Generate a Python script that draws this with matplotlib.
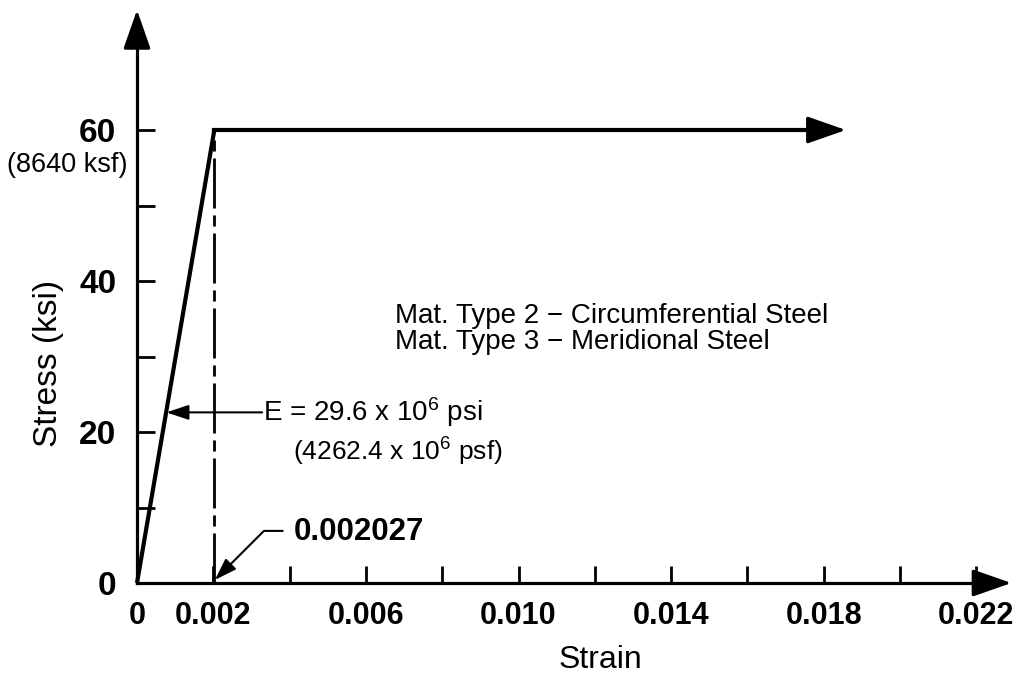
import matplotlib
matplotlib.use("Agg")
import matplotlib.pyplot as plt

plt.rcParams['font.family'] = ['Liberation Sans', 'DejaVu Sans']
plt.rcParams['mathtext.default'] = 'regular'

# stress-strain curve (strain, ksi)
strain = [0.0, 0.002027, 0.0182]
stress = [0.0, 60.0, 60.0]
yield_strain = 0.002027
yield_stress = 60

x_major = [0, 0.002, 0.006, 0.010, 0.014, 0.018, 0.022]
x_labels = ['0', '0.002', '0.006', '0.010', '0.014', '0.018', '0.022']
x_minor = [0.004, 0.008, 0.012, 0.016, 0.020]
y_major = [0, 20, 40, 60]
y_labels = ['0', '20', '40', '60']
y_minor = [10, 30, 50]

fig = plt.figure(figsize=(10.16, 6.81), dpi=100)
ax = fig.add_axes([0, 0, 1, 1])
ax.set_xlim(-0.003591, 0.02304)
ax.set_ylim(-12.98, 77.22)

for s in ['top', 'right']:
    ax.spines[s].set_visible(False)
ax.spines['left'].set_position(('data', 0))
ax.spines['bottom'].set_position(('data', 0))
ax.spines['left'].set_bounds(0, 72)
ax.spines['bottom'].set_bounds(0, 0.0224)
for s in ['left', 'bottom']:
    ax.spines[s].set_linewidth(2.3)

ax.set_xticks(x_major)
ax.set_xticklabels(x_labels, fontweight='bold')
ax.set_xticks(x_minor, minor=True)
ax.set_yticks(y_major)
ax.set_yticklabels(y_labels, fontweight='bold')
ax.set_yticks(y_minor, minor=True)
ax.tick_params(axis='x', which='both', direction='in', length=12, width=2, pad=13, labelsize=22)
ax.tick_params(axis='y', which='both', direction='in', length=13, width=2, pad=15, labelsize=24)
ax.tick_params(axis='x', which='minor', labelbottom=False)

# axis arrowheads
head = dict(arrowstyle='-|>,head_length=1.2,head_width=0.42', color='k', lw=2.3,
            mutation_scale=20, shrinkA=0, shrinkB=0)
ax.annotate('', xy=(0, 75.9), xytext=(0, 71), arrowprops=head)
ax.annotate('', xy=(0.02292, 0), xytext=(0.0223, 0), arrowprops=head)

# curve
ax.plot(strain[:2], stress[:2], color='k', lw=3, solid_capstyle='butt')
ax.plot([strain[1], strain[2]], stress[1:], color='k', lw=3)
ax.annotate('', xy=(0.01858, 60), xytext=(0.0181, 60), arrowprops=head)
ax.plot([yield_strain, yield_strain], [0, yield_stress], color='k', lw=2,
        linestyle=(0, (18, 2.5, 4, 2.5)))

ax.text(-0.00024, 55.4, '(8640 ksf)', fontsize=19.5, ha='right', va='center')

ax.text(0.01214, -10.2, 'Strain', fontsize=23, ha='center', va='center')
ax.text(-0.00233, 29.1, 'Stress (ksi)', fontsize=24, ha='center', va='center', rotation=90)

ax.text(0.00677, 35.3, 'Mat. Type 2 \u2212 Circumferential Steel', fontsize=20, va='center')
ax.text(0.00677, 31.9, 'Mat. Type 3 \u2212 Meridional Steel', fontsize=20, va='center')

arr = dict(arrowstyle='-|>,head_length=0.9,head_width=0.3', color='k', lw=1.5,
           mutation_scale=15, shrinkA=0, shrinkB=0)
ax.annotate('', xy=(0.00077, 22.6), xytext=(0.00328, 22.6), arrowprops=arr)
ax.text(0.00330, 22.6, 'E = 29.6 x 10$^{6}$ psi', fontsize=20, va='center')
ax.text(0.00409, 17.4, '(4262.4 x 10$^{6}$ psf)', fontsize=19, va='center')

arr2 = dict(arr, connectionstyle='angle,angleA=0,angleB=45,rad=0')
ax.annotate('', xy=(0.00204, 0.4), xytext=(0.00382, 6.9), arrowprops=arr2)
ax.text(0.00412, 6.75, '0.002027', fontsize=22.5, fontweight='bold', va='center')

fig.savefig('out.png', dpi=100)
